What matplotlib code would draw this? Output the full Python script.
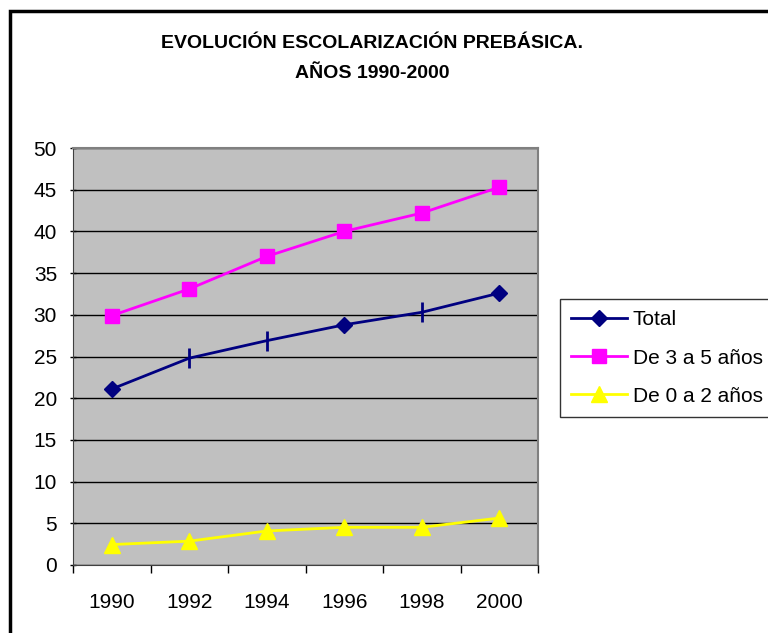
import matplotlib
matplotlib.use("Agg")
import matplotlib.pyplot as plt
from matplotlib.lines import Line2D
from matplotlib.patches import Rectangle

plt.rcParams['font.family'] = ['Liberation Sans', 'DejaVu Sans']

years = ['1990', '1992', '1994', '1996', '1998', '2000']
total = [21.1, 24.8, 26.9, 28.8, 30.3, 32.6]
de_3_a_5 = [29.9, 33.1, 37.0, 40.0, 42.2, 45.3]
de_0_a_2 = [2.45, 2.86, 4.08, 4.52, 4.52, 5.63]
# markers shown on the Total line in the original (some render as a tick only)
total_markers = ['D', '|', '|', 'D', '|', 'D']

x = list(range(len(years)))

fig = plt.figure(figsize=(7.68, 6.33), dpi=100)
ax = fig.add_axes([73/768, 1-565/633, (538-73)/768, (565-148)/633])
ax.set_facecolor('#C0C0C0')

# lines
ax.plot(x, total, color='#000080', lw=2, zorder=3)
for xi, yi, m in zip(x, total, total_markers):
    if m == 'D':
        ax.plot(xi, yi, marker='D', ms=8, color='#000080', zorder=4)
    else:
        ax.plot(xi, yi, marker='|', ms=14, mew=2, color='#000080', zorder=4)
ax.plot(x, de_3_a_5, color='#FF00FF', lw=2, marker='s', ms=10.5, zorder=3)
ax.plot(x, de_0_a_2, color='#FFFF00', lw=2, marker='^', ms=11, zorder=3)

# axes
ax.set_ylim(0, 50)
ax.set_yticks(range(0, 51, 5))
ax.set_xlim(-0.5, 5.5)
ax.set_xticks([i - 0.5 for i in range(7)])
ax.set_xticklabels([])
ax.set_xticks(x, minor=True)
ax.set_xticklabels(years, minor=True)
ax.tick_params(axis='x', which='minor', length=0, pad=20, labelsize=15)
ax.tick_params(axis='x', which='major', length=6, width=1, direction='out')
ax.tick_params(axis='y', length=5, width=1, direction='inout', labelsize=15, pad=9)
ax.yaxis.grid(True, color='black', lw=1)
ax.set_axisbelow(True)
for s in ['top', 'right']:
    ax.spines[s].set_color('#808080')
    ax.spines[s].set_linewidth(1.5)
ax.spines['left'].set_color('#404040')
ax.spines['bottom'].set_color('#404040')

# title
fig.text(372/768, 1-43/633, 'EVOLUCIÓN ESCOLARIZACIÓN PREBÁSICA.', ha='center', va='center',
         fontsize=14, fontweight='bold')
fig.text(372/768, 1-74/633, 'AÑOS 1990-2000', ha='center', va='center',
         fontsize=14, fontweight='bold')

# legend
handles = [
    Line2D([], [], color='#000080', lw=2, marker='D', ms=8),
    Line2D([], [], color='#FF00FF', lw=2, marker='s', ms=10.5),
    Line2D([], [], color='#FFFF00', lw=2, marker='^', ms=11),
]
leg = fig.legend(handles, ['Total', 'De 3 a 5 años', 'De 0 a 2 años'],
                 loc='upper left', bbox_to_anchor=(560/768, 1-299/633),
                 fontsize=15, frameon=True, fancybox=False, handlelength=2.65,
                 handletextpad=0.3, borderpad=0.55, labelspacing=0.92, borderaxespad=0)
leg.get_frame().set_edgecolor('black')
leg.get_frame().set_linewidth(1)

# outer chart border
fig.patches.append(Rectangle((10/768, -0.05), 1.0, 1-11/633+0.05, transform=fig.transFigure,
                             fill=False, edgecolor='black', lw=2.5))

fig.savefig('out.png', dpi=100)
